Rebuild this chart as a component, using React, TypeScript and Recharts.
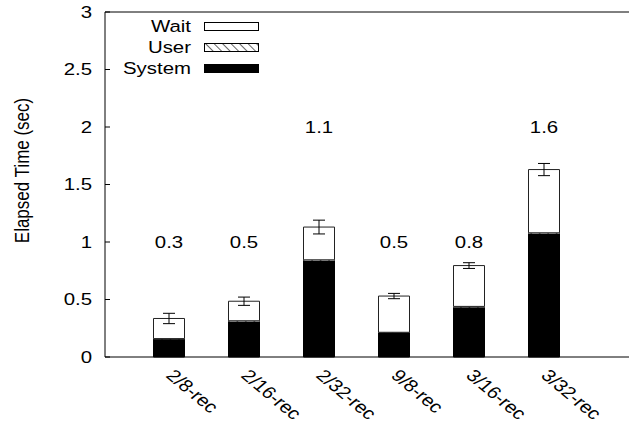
import React from 'react';
import {
  ComposedChart,
  Bar,
  Line,
  XAxis,
  YAxis,
  ErrorBar,
  LabelList,
  ReferenceLine,
  Legend,
  Label,
} from 'recharts';

const categories = ['2/8-rec', '2/16-rec', '2/32-rec', '9/8-rec', '3/16-rec', '3/32-rec'];
const systemTime = [0.155, 0.305, 0.835, 0.21, 0.43, 1.07];
const userTime = [0.005, 0.01, 0.01, 0.005, 0.01, 0.01];
const waitTime = [0.175, 0.17, 0.285, 0.315, 0.355, 0.55];
const waitError = [0.045, 0.036, 0.06, 0.023, 0.025, 0.053];
const speedupLabels = ['0.3', '0.5', '1.1', '0.5', '0.8', '1.6'];
const labelHeights = [1, 1, 2, 1, 1, 2];
const yTicks = [0, 0.5, 1, 1.5, 2, 2.5, 3];
const legendNames = ['Wait', 'User', 'System'];

const data = categories.map((c, i) => ({
  name: c,
  system: systemTime[i],
  user: userTime[i],
  wait: waitTime[i],
  err: waitError[i],
  labelY: labelHeights[i],
  label: speedupLabels[i],
}));

const FONT = '"Liberation Sans", Arial, Helvetica, sans-serif';
const FS = 17;
const SX = 1.2;

const YTick = (props: any) => {
  const { x, y, payload } = props;
  return (
    <g>
      <line x1={x} x2={x + 5} y1={y} y2={y} stroke="#000" strokeWidth={1} />
      <text
        transform={`translate(${x - 13},${y}) scale(${SX},1)`}
        textAnchor="end"
        dominantBaseline="central"
        fontFamily={FONT}
        fontSize={FS}
        fill="#000"
      >
        {String(payload.value)}
      </text>
    </g>
  );
};

const XTick = (props: any) => {
  const { x, y, payload } = props;
  return (
    <text
      transform={`translate(${x - 4},${y + 19.5}) scale(${SX},1) rotate(45)`}
      textAnchor="start"
      fontFamily={FONT}
      fontSize={FS}
      fill="#000"
    >
      {payload.value}
    </text>
  );
};

const TopLabel = (props: any) => {
  const { x, y, width, value } = props;
  const cx = width !== undefined ? x + width / 2 : x;
  return (
    <text
      transform={`translate(${cx},${y}) scale(${SX},1)`}
      textAnchor="middle"
      dominantBaseline="central"
      fontFamily={FONT}
      fontSize={FS}
      fill="#000"
    >
      {value}
    </text>
  );
};

const YTitle = (props: any) => {
  const vb = props.viewBox || { x: 0, y: 12, width: 105, height: 345 };
  const cx = vb.x + 22;
  const cy = vb.y + vb.height / 2 - 14;
  return (
    <text
      transform={`translate(${cx},${cy}) scale(${SX},1) rotate(-90)`}
      textAnchor="middle"
      dominantBaseline="central"
      fontFamily={FONT}
      fontSize={FS}
      fill="#000"
    >
      Elapsed Time (sec)
    </text>
  );
};

const fills: Record<string, string> = {
  Wait: '#ffffff',
  User: 'url(#hatchUser)',
  System: '#000000',
};

const LegendContent = () => (
  <svg width={629} height={90} style={{ display: 'block' }}>
    {legendNames.map((n, i) => {
      const cy = 26.5 + i * 21;
      return (
        <g key={n}>
          <text
            transform={`translate(191,${cy}) scale(${SX},1)`}
            textAnchor="end"
            dominantBaseline="central"
            fontFamily={FONT}
            fontSize={FS}
            fill="#000"
          >
            {n}
          </text>
          <rect x={204.5} y={cy - 4} width={54} height={8} fill={fills[n]} stroke="#000" strokeWidth={1} />
        </g>
      );
    })}
  </svg>
);

export default function App() {
  return (
    <div style={{ position: 'absolute', left: 0, top: 0, width: 629, height: 423, background: '#fff' }}>
      <svg width={0} height={0} style={{ position: 'absolute' }}>
        <defs>
          <pattern
            id="hatchUser"
            patternUnits="userSpaceOnUse"
            width={6}
            height={6}
            patternTransform="rotate(-45)"
          >
            <rect x={0} y={0} width={6} height={6} fill="#fff" />
            <line x1={0} y1={0} x2={0} y2={6} stroke="#000" strokeWidth={1.2} />
          </pattern>
        </defs>
      </svg>
      <ComposedChart
        width={629}
        height={423}
        data={data}
        margin={{ top: 12, right: 0, bottom: 0, left: 0 }}
      >
        <XAxis
          dataKey="name"
          type="category"
          height={66}
          padding={{ left: 26.5, right: 47.5 }}
          axisLine={{ stroke: '#000', strokeWidth: 1 }}
          tickLine={false}
          tickSize={0}
          tickMargin={0}
          tick={<XTick />}
          interval={0}
        />
        <YAxis
          type="number"
          domain={[0, 3]}
          ticks={yTicks}
          width={105}
          axisLine={{ stroke: '#000', strokeWidth: 1 }}
          tickLine={false}
          tickSize={0}
          tickMargin={0}
          tick={<YTick />}
          interval={0}
        >
          <Label content={<YTitle />} />
        </YAxis>
        <ReferenceLine y={3} stroke="#000" strokeWidth={1} ifOverflow="extendDomain" />
        <Legend
          content={<LegendContent />}
          layout="horizontal"
          align="center"
          verticalAlign="middle"
          wrapperStyle={{ position: 'absolute', left: 0, top: 0, width: 629, height: 90 }}
        />
        <Bar
          dataKey="system"
          name="System"
          stackId="a"
          fill="#000"
          stroke="#000"
          strokeWidth={1}
          barSize={31}
          isAnimationActive={false}
        />
        <Bar
          dataKey="user"
          name="User"
          stackId="a"
          fill="url(#hatchUser)"
          stroke="#000"
          strokeWidth={0.5}
          barSize={31}
          isAnimationActive={false}
        />
        <Bar
          dataKey="wait"
          name="Wait"
          stackId="a"
          fill="#fff"
          stroke="#222"
          strokeWidth={1}
          barSize={31}
          isAnimationActive={false}
        >
          <ErrorBar dataKey="err" width={6} stroke="#000" strokeWidth={1} direction="y" />
        </Bar>
        <Line
          dataKey="labelY"
          stroke="none"
          dot={false}
          activeDot={false}
          legendType="none"
          isAnimationActive={false}
        >
          <LabelList dataKey="label" content={<TopLabel />} />
        </Line>
      </ComposedChart>
    </div>
  );
}
